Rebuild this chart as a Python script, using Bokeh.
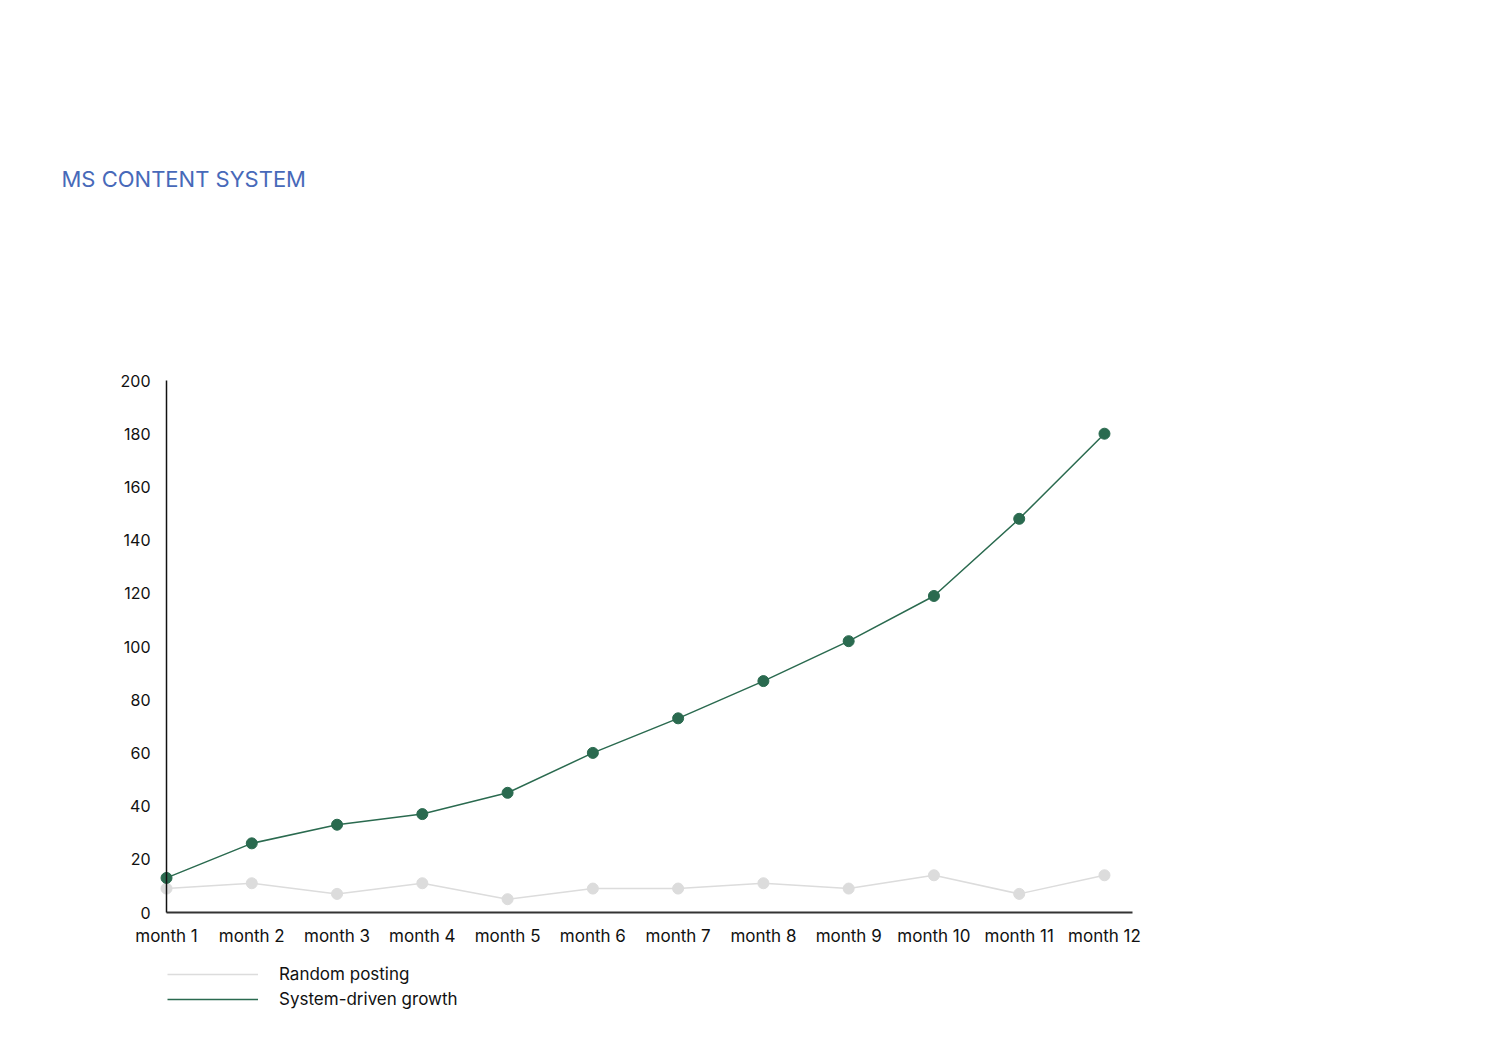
from bokeh.plotting import figure
from bokeh.models import ColumnDataSource, Range1d, FixedTicker, Legend, LegendItem, Label, LinearAxis
from bokeh.embed import file_html
from bokeh.resources import INLINE

# data
months = list(range(1, 13))
month_labels = ["month %d" % m for m in months]
random_posting = [9, 11, 7, 11, 5, 9, 9, 11, 9, 14, 7, 14]
system_growth = [13, 26, 33, 37, 45, 60, 73, 87, 102, 119, 148, 180]
y_ticks = [0, 20, 40, 60, 80, 100, 120, 140, 160, 180, 200]

GREEN = "#2a6a4f"
GREY = "#dcdcdc"
FONT = "Inter"

W, H = 1490, 1030
source = ColumnDataSource(dict(month=months, random=random_posting, system=system_growth))

# the frame fills the whole canvas so title and legend are not clipped;
# the axes sit at x=1 / y=0 and are bounded to the data area
p = figure(width=W, height=H, output_backend="svg", toolbar_location=None,
           x_range=Range1d(-0.9468, 16.527), y_range=Range1d(-44.36, 342.86),
           min_border=0, x_axis_location=None, y_axis_location=None)
p.outline_line_color = None
p.xgrid.visible = False
p.ygrid.visible = False

xaxis = LinearAxis(fixed_location=0, bounds=(1, 12.33), ticker=FixedTicker(ticks=months),
                   major_label_overrides={m: lab for m, lab in zip(months, month_labels)})
yaxis = LinearAxis(fixed_location=1, bounds=(0, 200), ticker=FixedTicker(ticks=y_ticks))
p.add_layout(xaxis, "below")
p.add_layout(yaxis, "left")
for ax in (xaxis, yaxis):
    ax.major_tick_line_color = None
    ax.minor_tick_line_color = None
    ax.major_tick_out = 0
    ax.major_label_text_font = FONT
    ax.major_label_text_color = "#111111"
xaxis.major_label_text_font_size = "17px"
yaxis.major_label_text_font_size = "16px"
xaxis.major_label_standoff = 13
yaxis.major_label_standoff = 16
xaxis.axis_line_color = "#333333"
xaxis.axis_line_width = 2
yaxis.axis_line_color = "#111111"
yaxis.axis_line_width = 1.5

# grey series
r1 = p.line("month", "random", source=source, line_color=GREY, line_width=1.5)
p.scatter("month", "random", source=source, size=11, color=GREY)
# green series
r2 = p.line("month", "system", source=source, line_color=GREEN, line_width=1.5)
p.scatter("month", "system", source=source, size=11, color=GREEN)

# title
p.add_layout(Label(x=61, y=H - 178, x_units="screen", y_units="screen", text="MS CONTENT SYSTEM",
                   text_font=FONT, text_font_size="22px", text_color="#4769b9",
                   text_baseline="middle"))

# legend under the x axis
legend = Legend(items=[LegendItem(label="Random posting", renderers=[r1]),
                       LegendItem(label="System-driven growth", renderers=[r2])],
                location=(167, H - 1009), orientation="vertical",
                glyph_width=91, glyph_height=20, label_standoff=21, spacing=5,
                padding=0, margin=0, border_line_color=None, background_fill_alpha=0,
                label_text_font=FONT, label_text_font_size="17px", label_text_color="#111111")
p.add_layout(legend)

open("out.html", "w").write(file_html(p, INLINE))
